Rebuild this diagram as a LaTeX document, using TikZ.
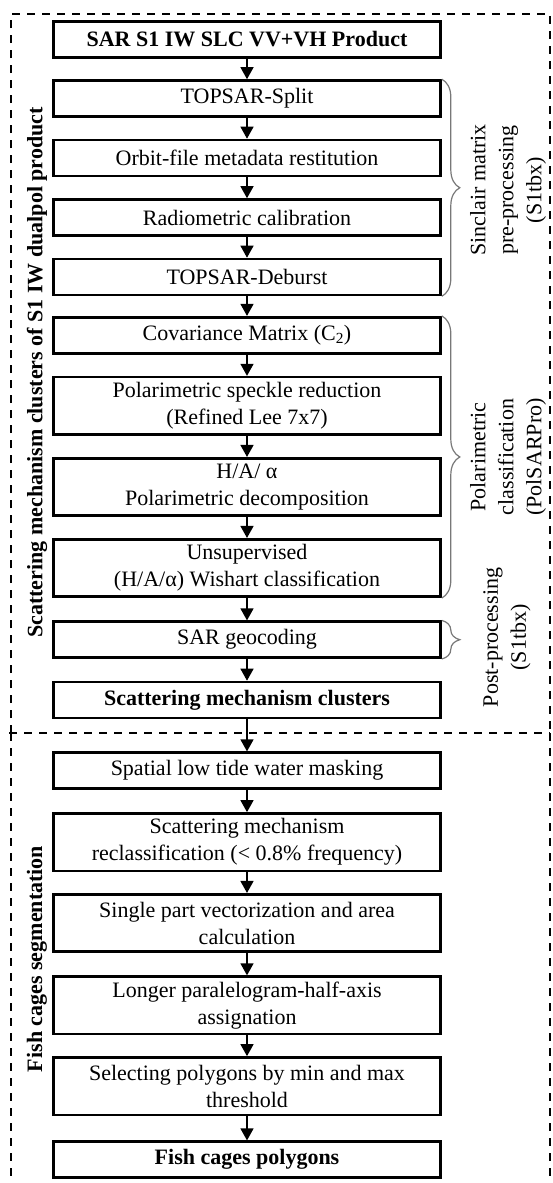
\documentclass[tikz,border=0pt]{standalone}
\usepackage{fontspec}
\setmainfont{Liberation Serif}
\usetikzlibrary{arrows.meta,decorations.pathreplacing}
\definecolor{bracegray}{RGB}{120,120,120}
\begin{document}
\begin{tikzpicture}[x=1pt,y=-1pt,
  stepbox/.style={draw,line width=2.6pt,minimum width=387pt,minimum height=36pt,inner sep=0pt,align=center,font=\fontsize{22}{27}\selectfont},
  twobox/.style={stepbox,minimum height=57.5pt},
  boldbox/.style={stepbox,font=\fontsize{22}{27}\selectfont\bfseries},
  arr/.style={line width=1.3pt,-{Triangle[width=13pt,length=12pt]}},
  grp/.style={draw,dash pattern=on 8pt off 7pt,line width=1.8pt},
  brc/.style={draw=bracegray,line width=1.2pt,decorate,decoration={brace,amplitude=18pt}},
  side/.style={rotate=90,align=center,font=\fontsize{22}{28}\selectfont},
  vlabel/.style={rotate=90,font=\fontsize{22}{27}\selectfont\bfseries}]
\useasboundingbox (0,0) rectangle (552,1183);
% group frames
\coordinate (ga) at (11,14);
\coordinate (gb) at (550,14);
\coordinate (gc) at (550,733);
\coordinate (gd) at (11,733);
\coordinate (ge) at (9,733);
\coordinate (gf) at (11,1183);
\coordinate (gg) at (550,1183);
\draw[grp] (gd) -- (ga) -- (gb) -- (gc);
\draw[grp] (ge) -- (gc);
\draw[grp] (gd) -- (gf);
\draw[grp] (gc) -- (gg);
% boxes
\node[boldbox] (n1) at (247,39.5) {SAR S1 IW SLC VV+VH Product};
\node[stepbox] (n2) at (247,98.5) {TOPSAR-Split};
\node[stepbox] (n3) at (247,158) {Orbit-file metadata restitution};
\node[stepbox] (n4) at (247,217.5) {Radiometric calibration};
\node[stepbox] (n5) at (247,277) {TOPSAR-Deburst};
\node[stepbox] (n6) at (247,335.2) {Covariance Matrix (C\textsubscript{2})};
\node[twobox] (n7) at (247,405.9) {Polarimetric speckle reduction\\(Refined Lee 7x7)};
\node[twobox] (n8) at (247,487) {H/A/ α\\Polarimetric decomposition};
\node[twobox] (n9) at (247,568) {Unsupervised\\(H/A/α) Wishart classification};
\node[stepbox] (n10) at (247,639.7) {SAR geocoding};
\node[boldbox] (n11) at (247,700) {Scattering mechanism clusters};
\node[stepbox] (n12) at (247,770.7) {Spatial low tide water masking};
\node[twobox] (n13) at (247,842.2) {Scattering mechanism\\reclassification (< 0.8\% frequency)};
\node[twobox] (n14) at (247,923) {Single part vectorization and area\\calculation};
\node[twobox] (n15) at (247,1005.4) {Longer paralelogram-half-axis\\assignation};
\node[twobox] (n16) at (247,1086.2) {Selecting polygons by min and max\\threshold};
\node[boldbox] (n17) at (247,1159.7) {Fish cages polygons};
% arrows
\foreach \a/\b in {n1/n2,n2/n3,n3/n4,n4/n5,n5/n6,n6/n7,n7/n8,n8/n9,n9/n10,n10/n11,n11/n12,n12/n13,n13/n14,n14/n15,n15/n16,n16/n17}
  \draw[arr] (\a) -- (\b);
% braces
\draw[brc] (n2.north east) -- (n5.south east);
\draw[brc] (n6.north east) -- (n9.south east);
\draw[brc] (n10.north east) -- (n10.south east);
% side labels
\node[side] (s1) at (508,190) {Sinclair matrix\\pre-processing\\(S1tbx)};
\node[side] (s2) at (508,457) {Polarimetric\\classification\\(PolSARPro)};
\node[side] (s3) at (507,637.5) {Post-processing\\(S1tbx)};
\node[vlabel] (v1) at (37,372.5) {Scattering mechanism clusters of S1 IW dualpol product};
\node[vlabel] (v2) at (37,959) {Fish cages segmentation};
\end{tikzpicture}
\end{document}
